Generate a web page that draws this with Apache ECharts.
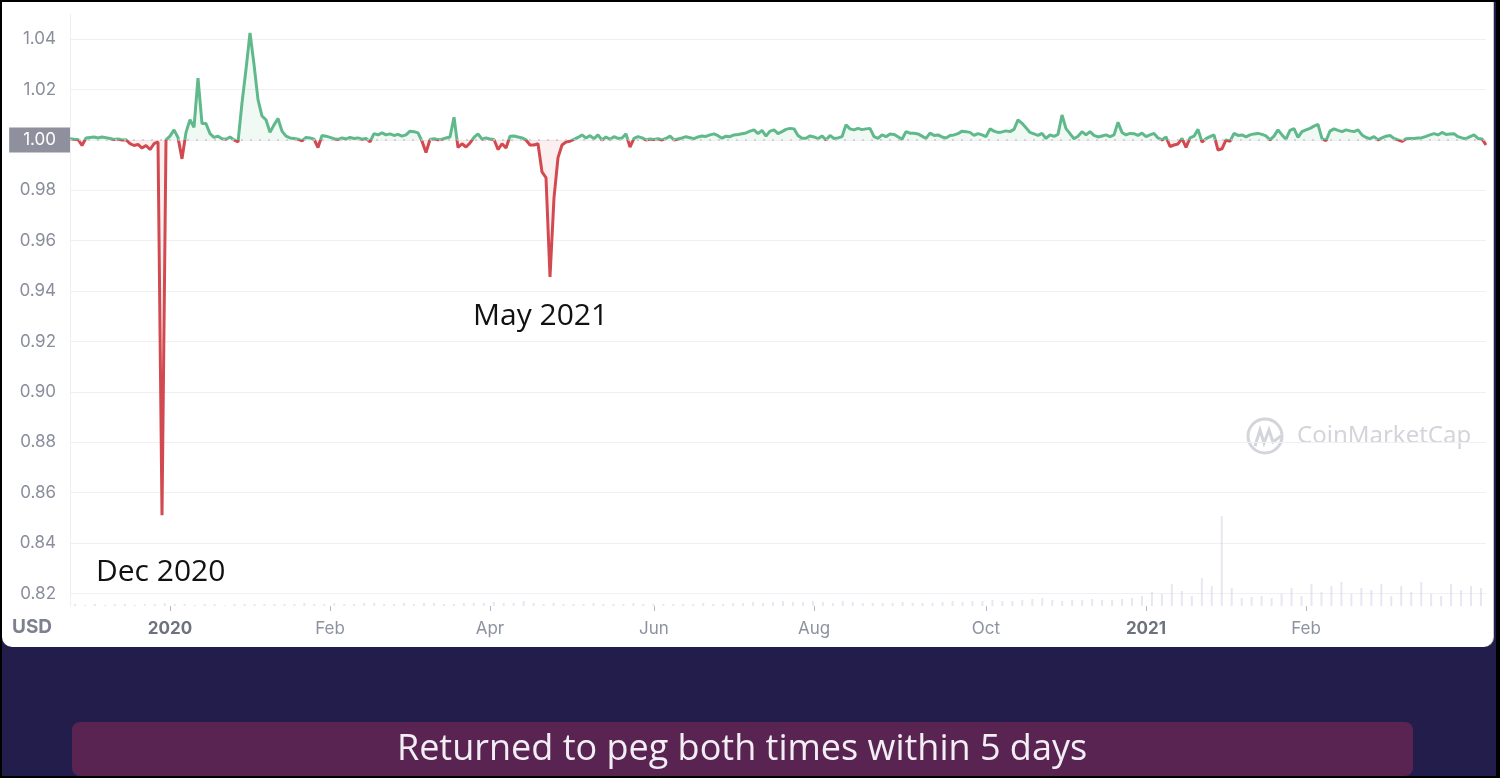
<!DOCTYPE html>
<html>
<head>
<meta charset="utf-8">
<title>Peg chart</title>
<script src="https://cdn.jsdelivr.net/npm/echarts@6.0.0/dist/echarts.min.js"></script>
<style>
	html, body { margin: 0; padding: 0; width: 1500px; height: 778px; background: #000; overflow: hidden; }
	#band { position: absolute; left: 2px; top: 2px; width: 1494px; height: 774px; background: #231d4b; }
	#panel { position: absolute; left: 2px; top: 2px; width: 1491px; height: 645px; background: #fff; border-radius: 0 0 10px 10px; border-right: 1px solid #c8c8cc; }
	#main { position: absolute; left: 0; top: 0; width: 1500px; height: 778px; }
</style>
</head>
<body>
<div id="band"></div>
<div id="panel"></div>
<div id="main"></div>
<script>
	// daily price (one point every 4px)
	var pricesDec = [
		1.0005, 1.0003, 1.0002, 0.9978, 1.0008, 1.001, 1.0012, 1.0008, 1.0012, 1.0009,
		1.0006, 1.0002, 1.0004, 1.0, 1.0001, 0.9985, 0.9978, 0.9982, 0.9968, 0.9978,
		0.9962, 0.9985, 0.9992, 0.851, 1.0, 1.0015, 1.004, 1.001, 0.9925, 1.003,
		1.008, 1.005, 1.0245, 1.0065, 1.0065, 1.0025, 1.001, 1.0015, 1.0005, 1.0003,
		1.0012, 1.0, 0.9992, 1.0147, 1.028, 1.0425, 1.03, 1.016, 1.0095, 1.008,
		1.003, 1.006, 1.0085, 1.0035, 1.0015, 1.0008, 1.0006, 1.0003, 0.9996, 1.001
	];
	var pricesSpring = [
		1.0008, 1.0003, 0.997, 1.0018, 1.0015, 1.001, 1.0005, 1.0002, 1.0008, 1.0004,
		1.001, 1.0006, 1.0008, 1.0003, 1.0006, 0.9993, 1.0025, 1.002, 1.0028, 1.002,
		1.0024, 1.0018, 1.0022, 1.0015, 1.002, 1.0035, 1.0033, 1.0028, 0.9995, 0.995,
		1.0002, 1.0005, 1.0001, 1.0003, 1.0008, 1.0012, 1.009, 0.997, 0.9985, 0.9972,
		0.9988, 1.001, 1.0024, 1.0003, 1.0008, 1.0004, 1.0002, 0.9962, 0.9985, 0.9968,
		1.0015, 1.0016, 1.0012, 1.0008, 1.0, 0.998, 0.998, 0.9985, 0.9873, 0.985,
		0.9456, 0.977, 0.993, 0.998, 0.9992, 0.9995, 1.0002, 1.001, 1.002, 1.0008,
		1.0017, 1.0005, 1.002, 1.0, 1.0012, 1.0003, 1.0013, 1.0006, 1.0008, 1.0024
	];
	var pricesSummer = [
		0.9972, 1.0006, 1.0013, 1.0008, 1.0, 1.0004, 1.0002, 1.0005, 1.0, 1.0006,
		1.0015, 1.0, 1.0004, 1.0008, 1.0013, 1.0009, 1.0005, 1.0012, 1.0016, 1.0014,
		1.002, 1.0024, 1.0017, 1.0007, 1.0015, 1.0013, 1.002, 1.0022, 1.0025, 1.0028,
		1.0035, 1.004, 1.0025, 1.0038, 1.0015, 1.0035, 1.004, 1.0025, 1.0033, 1.0042,
		1.0046, 1.0044, 1.0018, 1.0007, 1.0007, 1.0016, 1.0012, 1.0005, 1.0016, 1.0,
		1.0018, 1.0006, 1.0008, 1.0013, 1.006, 1.0044, 1.004, 1.0046, 1.0041, 1.0044,
		1.0046, 1.0013, 1.0006, 1.002, 1.0013, 1.0024, 1.0022, 1.0013, 1.0003, 1.0033,
		1.0027, 1.0027, 1.0024, 1.0015, 1.0006, 1.0027, 1.0018, 1.002, 1.0012, 1.0008
	];
	var pricesAutumn = [
		1.0018, 1.002, 1.0025, 1.0035, 1.0033, 1.003, 1.0018, 1.0025, 1.002, 1.0013,
		1.0044, 1.0035, 1.003, 1.0032, 1.0036, 1.0033, 1.0042, 1.008, 1.0066, 1.0048,
		1.003, 1.0024, 1.0018, 1.0026, 1.0006, 1.002, 1.0014, 1.0022, 1.0099, 1.0045,
		1.0025, 1.0005, 1.0015, 1.0033, 1.002, 1.0033, 1.0018, 1.0012, 1.0016, 1.002,
		1.0013, 1.002, 1.007, 1.003, 1.002, 1.0026, 1.0025, 1.0018, 1.0027, 1.0013,
		1.002, 1.0026, 1.0008, 1.0, 1.0012, 0.9974, 0.998, 0.9984, 1.0006, 0.997,
		1.0008, 1.0015, 1.0042, 0.9992, 1.0005, 1.0013, 1.002, 0.996, 0.9965, 1.0
	];
	var pricesWinter = [
		0.9995, 1.0026, 1.0018, 1.002, 1.0012, 1.002, 1.0024, 1.0026, 1.0022, 1.0016,
		1.0, 1.0015, 1.004, 1.002, 1.0003, 1.0038, 1.0045, 1.001, 1.0033, 1.004,
		1.0046, 1.0055, 1.0062, 1.0005, 0.9997, 1.0035, 1.0044, 1.0038, 1.0033, 1.004,
		1.0036, 1.0033, 1.004, 1.002, 1.001, 1.0005, 1.0013, 1.0, 1.0008, 1.0015,
		1.0018, 1.0006, 1.0, 0.9994, 1.0005, 1.0006, 1.0006, 1.0008, 1.0009, 1.0014,
		1.002, 1.0025, 1.002, 1.003, 1.0022, 1.0024, 1.0025, 1.0013, 1.0008, 1.0005,
		1.0013, 1.002, 1.0006, 1.0004, 0.998
	];
	var prices = [].concat(pricesDec, pricesSpring, pricesSummer, pricesAutumn, pricesWinter);

	// faint volume bars at the bottom (rough heights)
	var volume = [
		2, 1, 2, 1, 2, 2, 1, 2, 2, 3, 2, 2, 1, 2, 2, 1, 2, 2, 2, 2, 2,
		2, 2, 3, 2, 2, 3, 2, 2, 3, 3, 2, 2, 3, 2, 3, 3, 2, 2, 3, 3,
		3, 4, 3, 3, 5, 3, 2, 3, 2, 2, 2, 3, 2, 2, 2, 3, 2, 2, 2, 2,
		2, 2, 3, 2, 2, 3, 3, 4, 3, 4, 5, 4, 4, 5, 4, 3, 5, 4, 3, 3,
		3, 3, 4, 3, 3, 3, 4, 5, 4, 5, 5, 6, 5, 5, 6, 7, 8, 6, 5, 6,
		6, 7, 6, 6, 7, 8, 10, 14, 12, 22, 15, 10, 28, 20, 90, 18, 8, 9, 10, 8,
		12, 18, 10, 22, 14, 20, 24, 12, 18, 16, 22, 10, 20, 14, 24, 12, 10, 22, 16, 20, 18
	];

	var tickIdx = [25, 65, 105, 146, 186, 229, 269, 309];
	var tickLabels = ['2020', 'Feb', 'Apr', 'Jun', 'Aug', 'Oct', '2021', 'Feb'];
	var yearLabels = ['2020', '2021'];
	var peg = 1.00;

	var days = prices.map(function (v, i) { return i; });
	var volDays = volume.map(function (v, i) { return i; });

	var green = '#5fb98b';
	var red = '#d24a50';

	var myChart = echarts.init(document.getElementById('main'), null, { renderer: 'canvas' });

	function isTick(i) {
		return tickIdx.indexOf(i) >= 0;
	}

	var option = {
		backgroundColor: 'transparent',
		animation: false,
		grid: { left: 70, right: 14, top: 14, bottom: 172 },
		xAxis: [{
			type: 'category',
			data: days,
			boundaryGap: false,
			axisLine: { show: false },
			axisTick: { show: true, length: 5, interval: function (i) { return isTick(i); }, lineStyle: { color: '#b4b7c2' } },
			axisLabel: {
				interval: function (i) { return isTick(i); },
				margin: 14,
				fontFamily: 'Inter',
				fontSize: 17,
				color: '#8d92a0',
				formatter: function (v, i) {
					var k = tickIdx.indexOf(Number(v));
					if (k < 0) return '';
					var t = tickLabels[k];
					return yearLabels.indexOf(t) >= 0 ? '{yr|' + t + '}' : t;
				},
				rich: { yr: { fontWeight: 'bold', color: '#6e727e', fontSize: 17, fontFamily: 'Inter' } }
			},
			splitLine: { show: false }
		}, {
			type: 'category',
			data: volDays,
			show: false,
			boundaryGap: true
		}],
		yAxis: [{
			type: 'value',
			min: 0.815,
			max: 1.05,
			splitNumber: 12,
			axisLine: { show: true, lineStyle: { color: '#efeff3' } },
			axisTick: { show: false },
			splitLine: { show: true, showMinLine: false, showMaxLine: false, lineStyle: { color: '#f0f0f3' } },
			axisLabel: {
				margin: 0,
				showMinLabel: false,
				showMaxLabel: false,
				fontFamily: 'Inter',
				fontSize: 17,
				color: '#8a8e9c',
				formatter: function (v) {
					var c = Math.round(v * 100);
					if (Math.abs(v * 100 - c) > 1e-4 || c % 2 !== 0) return '';
					if (Math.abs(v - peg) < 1e-6) return '{hl|' + v.toFixed(2) + '}';
					return '{n|' + v.toFixed(2) + '}';
				},
				rich: {
					n: { padding: [0, 14, 0, 0], fontFamily: 'Inter', fontSize: 17, color: '#8a8e9c' },
					hl: { backgroundColor: '#8e909e', color: '#ffffff', fontFamily: 'Inter', fontSize: 17, lineHeight: 20, padding: [4, 14, 4, 14] }
				}
			}
		}, {
			type: 'value',
			min: 0,
			max: 592,
			show: false,
			splitLine: { show: false }
		}],
		visualMap: {
			show: false,
			seriesIndex: 0,
			dimension: 1,
			pieces: [{ gte: 0, lt: peg, color: red }, { gte: peg, lte: 2, color: green }]
		},
		series: [{
			type: 'line',
			data: prices,
			symbol: 'none',
			showSymbol: false,
			lineStyle: { width: 3 },
			areaStyle: { origin: peg, opacity: 0.09 },
			markLine: {
				silent: true,
				symbol: 'none',
				label: { show: false },
				lineStyle: { color: '#cbc4cf', type: [2, 7], width: 1.5 },
				data: [{ yAxis: peg }]
			},
			z: 3
		}, {
			type: 'bar',
			xAxisIndex: 1,
			yAxisIndex: 1,
			data: volume,
			barWidth: 2,
			silent: true,
			itemStyle: { color: 'rgba(200,202,226,0.45)' },
			z: 1
		}],
		graphic: [
			{ type: 'text', x: 12, y: 627, style: { text: 'USD', fontFamily: 'Inter', fontWeight: 'bold', fontSize: 19, fill: '#7d818d', verticalAlign: 'middle' } },
			{ type: 'text', x: 96, y: 572, z: 10, style: { text: 'Dec 2020', fontFamily: 'Open Sans', fontSize: 30, fill: '#111111', verticalAlign: 'middle' } },
			{ type: 'text', x: 473, y: 316, z: 10, style: { text: 'May 2021', fontFamily: 'Open Sans', fontSize: 30, fill: '#111111', verticalAlign: 'middle' } },
			// watermark
			{ type: 'circle', shape: { cx: 1265, cy: 436, r: 17 }, style: { fill: 'none', stroke: '#d3d5db', lineWidth: 3 } },
			{ type: 'polyline', shape: { points: [[1255, 446], [1260, 430], [1264, 443], [1269, 430], [1273, 442], [1281, 436]] }, style: { fill: 'none', stroke: '#d3d5db', lineWidth: 3 } },
			{ type: 'text', x: 1297, y: 436, style: { text: 'CoinMarketCap', fontFamily: 'Noto Sans', fontSize: 24, fill: '#d3d5db', verticalAlign: 'middle' } },
			// banner
			{ type: 'rect', shape: { x: 72, y: 722, width: 1341, height: 54, r: 8 }, style: { fill: '#5a2452' } },
			{ type: 'text', x: 742, y: 750, style: { text: 'Returned to peg both times within 5 days', fontFamily: 'Open Sans', fontSize: 36, fill: '#f3eef5', align: 'center', verticalAlign: 'middle' } }
		]
	};

	myChart.setOption(option);
</script>
</body>
</html>
